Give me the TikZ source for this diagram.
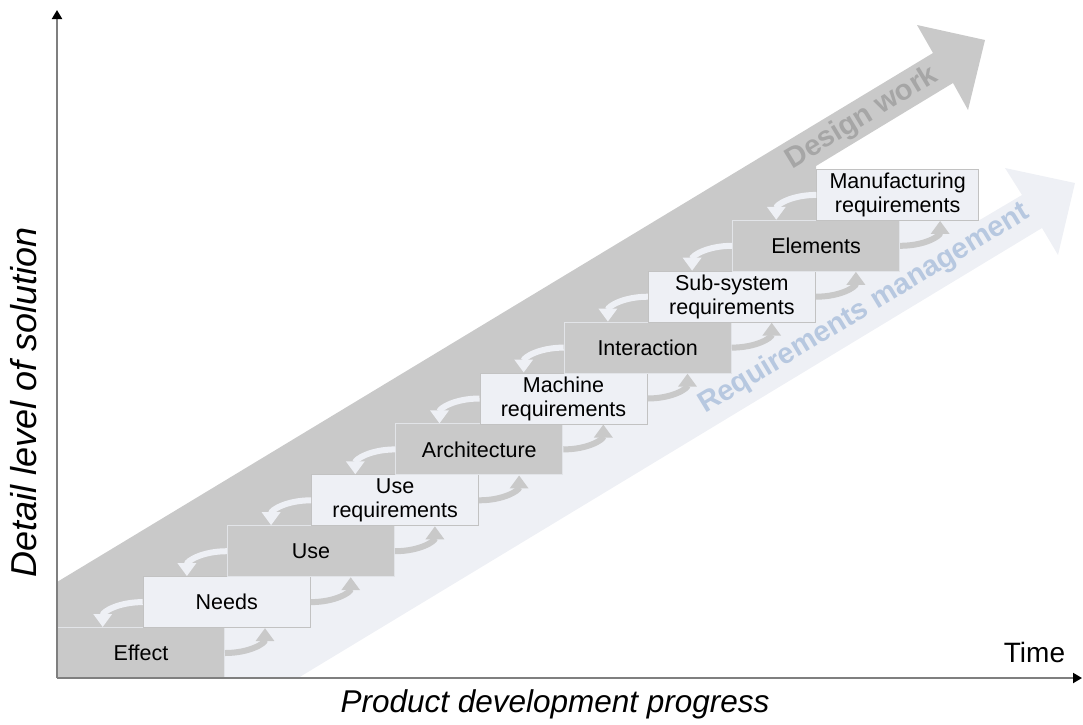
\documentclass[tikz,border=0pt]{standalone}
\usepackage{fontspec}
\setmainfont{Liberation Sans}
\usetikzlibrary{arrows.meta,calc}
\definecolor{darkfill}{HTML}{C9C9C9}
\definecolor{lightfill}{HTML}{EEF0F5}
\definecolor{darkedge}{HTML}{E2E4E8}
\definecolor{lightedge}{HTML}{C2C2C2}
\definecolor{designtext}{HTML}{A6A6A6}
\definecolor{reqtext}{HTML}{B7C8E0}
\definecolor{axisgray}{HTML}{7F7F7F}
\begin{document}
\begin{tikzpicture}[x=1pt,y=-1pt,
  stepbox/.style={line width=1pt, minimum width=167pt, minimum height=51pt,
    inner sep=0pt, anchor=north west, align=center,
    font=\fontsize{21.5}{24}\selectfont},
  darkbox/.style={stepbox, draw=darkedge, fill=darkfill},
  lightbox/.style={stepbox, draw=lightedge, fill=lightfill},
  backarrow/.style={draw=lightfill, line width=6pt,
    -{Triangle[width=18pt,length=13pt]}},
  fwdarrow/.style={draw=darkfill, line width=6pt,
    -{Triangle[width=18pt,length=13pt]}},
  axisline/.style={draw=axisgray, line width=2pt,
    -{Triangle[width=10pt,length=9pt,color=black]}},
  bandtext/.style={font=\fontsize{29}{29}\selectfont\bfseries, rotate=31.2,
    inner sep=0pt},
]
\useasboundingbox (0,0) rectangle (1083,724);

% requirements management band (under the staircase)
\fill[lightfill] (140,678) -- (298,678) -- (1042,228) -- (1058,255)
  -- (1075,183) -- (1005,168) -- (1022,195) -- (978,221) -- (897,195)
  -- (140,653) -- cycle;
% design work band (above the staircase)
\fill[darkfill] (57,582) -- (933,53) -- (917,25) -- (985,40) -- (968,110)
  -- (953,83) -- (816,166) -- (816,245) -- (140,653) -- (57,653) -- cycle;

\node[bandtext, text=designtext] (dw) at (862,118) {Design work};
\node[bandtext, text=reqtext] (rm) at (864,309) {Requirements management};

% staircase of activities
\node[darkbox]  (b0) at (57,627)    {Effect};
\node[lightbox] (b1) at (142.7,576.1) {Needs};
\node[darkbox]  (b2) at (226.9,525.2) {Use};
\node[lightbox] (b3) at (311.1,474.3) {Use\\requirements};
\node[darkbox]  (b4) at (395.3,423.4) {Architecture};
\node[lightbox] (b5) at (479.5,372.5) {Machine\\requirements};
\node[darkbox]  (b6) at (563.7,321.6) {Interaction};
\node[lightbox] (b7) at (647.9,270.7) {Sub-system\\requirements};
\node[darkbox]  (b8) at (732.1,219.8) {Elements};
\node[lightbox, minimum width=161.7pt] (b9) at (816.3,168.9) {Manufacturing\\requirements};

% feedback and feed-forward arrows between neighbouring steps
\foreach \i/\j in {b0/b1,b1/b2,b2/b3,b3/b4,b4/b5,b5/b6,b6/b7,b7/b8,b8/b9}{
  \draw[backarrow] (\j.west) .. controls +(-25,0) and +(0,-15) ..
    ($(\j.west |- \i.north)+(-40,0)$);
  \draw[fwdarrow] (\i.east) .. controls +(25,0) and +(0,15) ..
    ($(\i.east |- \j.south)+(40,0)$);
}

% axes
\coordinate (o) at (57,678);
\coordinate (ytop) at (57,10);
\coordinate (xend) at (1082,678);
\draw[axisline] (o) -- (ytop);
\draw[axisline] (o) -- (xend);

\node[font=\fontsize{28}{28}\selectfont, anchor=base] (time) at (1034.5,662) {Time};
\node[font=\fontsize{31.5}{31.5}\selectfont\itshape, anchor=base] (xlab) at (555,712) {Product development progress};
\node[font=\fontsize{36}{36}\selectfont\itshape, rotate=90, inner sep=0pt] (ylab) at (24,402) {Detail level of solution};
\end{tikzpicture}
\end{document}
